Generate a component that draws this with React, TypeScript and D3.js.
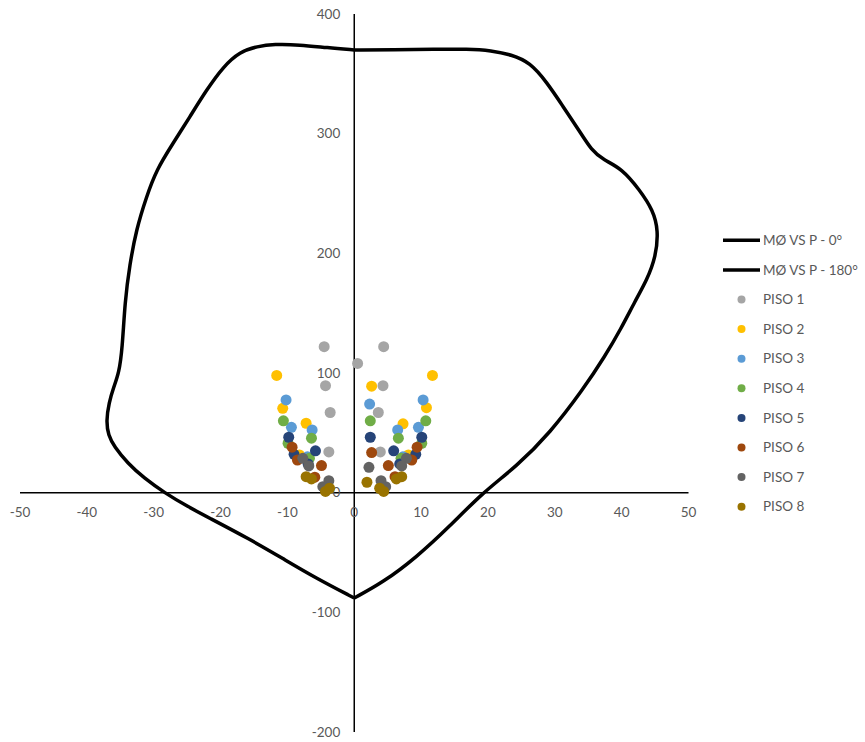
import React from "react";
import * as d3 from "d3";

type P = [number, number];

const seriesNames = ["MØ VS P - 0°", "MØ VS P - 180°"];
const pisoNames = ["PISO 1", "PISO 2", "PISO 3", "PISO 4", "PISO 5", "PISO 6", "PISO 7", "PISO 8"];
const pisoColors = ["#A5A5A5", "#FFC000", "#5B9BD5", "#70AD47", "#264478", "#9E480E", "#636363", "#997300"];

const xTicks = [-50, -40, -30, -20, -10, 0, 10, 20, 30, 40, 50];
const yTicks = [-200, -100, 0, 100, 200, 300, 400];

// MØ vs P, 0° (right branch, top to bottom)
const curve0: P[] = [
  [0, 370], [6, 370], [12, 370.5], [17, 370.8], [20.5, 369.5], [23.5, 366],
  [26.3, 359.5], [28.8, 343], [31.2, 323], [33.6, 303], [35.5, 286], [37.3, 278],
  [40.0, 271], [42.7, 253], [44.7, 236], [45.5, 219], [45.1, 197], [43.8, 178],
  [42.0, 160], [39.9, 137], [37.5, 114], [34.2, 86], [29.3, 50], [24.3, 22],
  [19.2, 0], [14.3, -28], [9.3, -54], [4.3, -75], [0, -88],
];

// MØ vs P, 180° (left branch, top to bottom)
const curve180: P[] = [
  [0, 370], [-4, 371.8], [-8.2, 374.3], [-12, 374.8], [-14.5, 373], [-17.1, 368.5],
  [-19.6, 356], [-22.1, 336.5], [-24.6, 314], [-27.1, 292], [-29.6, 269.7], [-31.1, 247],
  [-32.6, 220], [-33.6, 190], [-34.3, 160], [-34.7, 120], [-35.2, 100], [-36, 88],
  [-36.7, 75], [-37.1, 60], [-36.8, 48], [-35.9, 38.5], [-33.9, 24.6], [-31.4, 12],
  [-28.4, 0], [-24.9, -11.7], [-21.9, -20.5], [-15.6, -39], [-10.7, -55], [-5.7, -71.5], [0, -88],
];

const piso1: P[] = [[-4.5, 122], [4.4, 122], [0.5, 108], [-4.3, 89.4], [4.3, 89.4], [-3.6, 67], [3.6, 67], [-3.8, 34], [3.9, 34]];
const piso2: P[] = [[-11.6, 98], [11.7, 98], [2.6, 89], [-10.7, 70.5], [10.8, 71], [-7.2, 58], [7.3, 57.5], [-8.2, 31.5], [8.1, 31.5]];
const piso3: P[] = [[-10.2, 77.5], [10.3, 77.5], [2.3, 74], [-9.4, 54.6], [9.6, 54.6], [-6.3, 52.4], [6.5, 52.4], [-7.0, 30], [7.3, 30]];
const piso4: P[] = [[-10.6, 60], [10.7, 60], [2.4, 60], [-6.4, 45.5], [6.6, 45.5], [-9.9, 41.3], [10.1, 41.3], [-6.7, 28.7], [7.0, 28.7]];
const piso5: P[] = [[-9.8, 46.3], [10.1, 46.3], [2.4, 46.3], [-5.8, 35], [5.9, 35], [-9.0, 32], [9.2, 32], [-6.9, 24], [6.8, 24]];
const piso6: P[] = [[-9.3, 38], [9.4, 38], [2.6, 33.5], [-8.5, 27.3], [8.6, 27.3], [-4.9, 22.6], [5.1, 22.6], [-5.9, 12.9], [6.1, 13.4]];
const piso7: P[] = [[-7.7, 28.7], [7.8, 28.7], [-6.8, 22.3], [7.1, 22.3], [2.2, 21.2], [-3.8, 10], [4.0, 10], [-4.7, 5], [4.7, 5]];
const piso8: P[] = [[-7.2, 13.4], [7.1, 13.4], [1.9, 8.7], [-6.4, 11.5], [6.3, 11.5], [-4.3, 1], [4.4, 1], [-3.7, 3.7], [3.8, 3.7]];

const pisos = [piso1, piso2, piso3, piso4, piso5, piso6, piso7, piso8];

const W = 865;
const H = 742;
const FONT = "Lato, 'Open Sans', sans-serif";
const TXT = "#595959";

export default function App() {
  const x = d3.scaleLinear().domain([-50, 50]).range([20, 688.5]);
  const y = d3.scaleLinear().domain([-200, 400]).range([732, 14]);
  const line = d3
    .line<P>()
    .x((d) => x(d[0]))
    .y((d) => y(d[1]))
    .curve(d3.curveBasis);

  const legX = 723;
  const legY0 = 240.3;
  const legStep = 29.6;

  return (
    <svg width={W} height={H} style={{ position: "absolute", left: 0, top: 0, background: "#fff" }}>
      <rect width={W} height={H} fill="#fff" />
      {/* axes */}
      <line x1={x(-50)} x2={x(50)} y1={y(0)} y2={y(0)} stroke="#000" strokeWidth={1.5} />
      <line x1={x(0)} x2={x(0)} y1={y(400)} y2={y(-200)} stroke="#000" strokeWidth={1.5} />
      {xTicks.map((t) => (
        <text key={"x" + t} x={x(t)} y={y(0) + 24} textAnchor="middle" fontFamily={FONT} fontSize={13.5} fill={TXT}>
          {t}
        </text>
      ))}
      {yTicks.map((t) => (
        <text key={"y" + t} x={x(0) - 14} y={y(t)} dy="0.35em" textAnchor="end" fontFamily={FONT} fontSize={13.5} fill={TXT}>
          {t}
        </text>
      ))}
      {/* envelope */}
      <path d={line(curve0) || ""} fill="none" stroke="#000" strokeWidth={3.5} strokeLinejoin="round" />
      <path d={line(curve180) || ""} fill="none" stroke="#000" strokeWidth={3.5} strokeLinejoin="round" />
      {/* points */}
      {pisos.map((pts, i) =>
        pts.map((p, j) => (
          <circle key={`p${i}-${j}`} cx={x(p[0])} cy={y(p[1])} r={5.5} fill={pisoColors[i]} />
        ))
      )}
      {/* legend */}
      {seriesNames.map((n, i) => (
        <g key={n}>
          <line x1={legX} x2={legX + 37} y1={legY0 + i * legStep} y2={legY0 + i * legStep} stroke="#000" strokeWidth={3.5} />
          <text x={legX + 40} y={legY0 + i * legStep} dy="0.35em" fontFamily={FONT} fontSize={13.5} fill={TXT}>
            {n}
          </text>
        </g>
      ))}
      {pisoNames.map((n, i) => {
        const yy = legY0 + (i + 2) * legStep;
        return (
          <g key={n}>
            <circle cx={legX + 18.5} cy={yy} r={4} fill={pisoColors[i]} />
            <text x={legX + 40} y={yy} dy="0.35em" fontFamily={FONT} fontSize={13.5} fill={TXT}>
              {n}
            </text>
          </g>
        );
      })}
    </svg>
  );
}
